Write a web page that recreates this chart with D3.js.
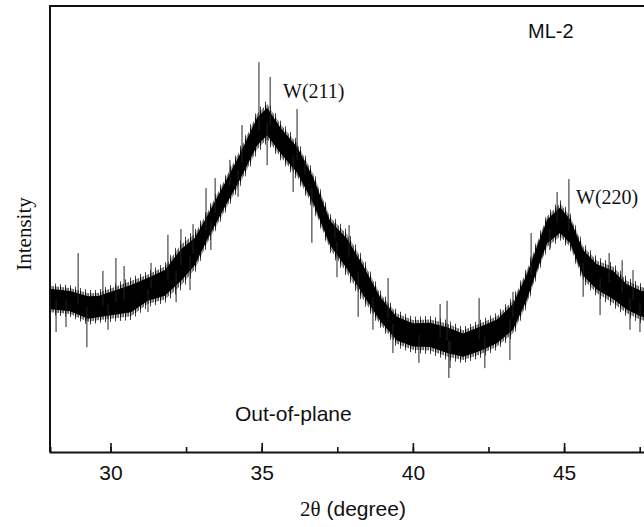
<!DOCTYPE html>
<html>
<head>
<meta charset="utf-8">
<script src="https://cdn.jsdelivr.net/npm/d3@7"></script>
<style>
  html, body { margin: 0; padding: 0; background: #fff; }
  svg { display: block; }
  .sans { font-family: "Liberation Sans", Arial, sans-serif; }
  .serif { font-family: "Liberation Serif", "Times New Roman", serif; }
</style>
</head>
<body>
<svg id="chart" width="644" height="527"></svg>
<script>
// 2θ positions (degree) and band envelope (arb. intensity)
const theta = [28.00, 28.66, 29.26, 29.59, 30.68, 31.24, 31.80, 32.33, 32.79, 33.19,
  33.72, 34.28, 34.85, 35.18, 35.61, 36.17, 36.70, 37.26, 37.82, 38.35,
  38.91, 39.47, 40.00, 40.57, 41.13, 41.66, 42.22, 42.78, 43.31, 43.77,
  44.10, 44.44, 44.87, 45.20, 45.63, 46.09, 46.62, 47.08, 47.51, 47.70];
const hi = [379, 374, 363, 363, 392, 405, 424, 475, 498, 543,
  610, 684, 767, 789, 744, 700, 632, 534, 498, 437,
  363, 318, 303, 305, 296, 280, 296, 312, 348, 415,
  475, 536, 565, 536, 469, 437, 424, 392, 379, 375];
const lo = [307, 303, 285, 289, 296, 325, 334, 363, 401, 460,
  527, 594, 670, 693, 655, 610, 543, 448, 392, 334,
  280, 235, 222, 220, 206, 199, 211, 229, 258, 325,
  392, 453, 475, 453, 379, 348, 325, 303, 289, 285];

// isolated noise spikes sticking out of the band
const spikeTheta = [28.93, 29.75, 30.18, 30.45, 31.90, 32.33, 32.73, 33.16, 34.35, 34.91,
  35.28, 36.17, 37.89, 39.18, 40.90, 41.13, 42.19, 43.91, 45.16, 46.92,
  33.95, 33.46, 31.34, 37.42, 36.43, 46.49, 47.28, 43.31, 44.77,
  28.20, 29.22, 31.24, 32.17, 34.22, 35.18, 32.63, 36.66, 37.49, 38.19,
  40.20, 41.23, 42.38, 43.21, 45.63, 46.19, 47.51,
  33.32, 36.04, 29.92, 28.53, 41.19, 39.34, 47.18, 44.53, 38.68];
const spikeTip = [446, 406, 435, 417, 487, 500, 511, 592, 733, 874,
  841, 769, 509, 390, 332, 339, 345, 491, 612, 430,
  655, 614, 424, 513, 655, 446, 408, 359, 583,
  269, 235, 314, 336, 572, 643, 363, 469, 392, 303,
  200, 188, 188, 206, 348, 307, 269,
  453, 583, 274, 280, 166, 222, 274, 453, 274];

const xTicks = [30, 35, 40, 45];
const xMinor = [30, 32.5, 35, 37.5, 40, 42.5, 45, 47.5];

const svg = d3.select("#chart");
const padLeft = 50, padTop = 6, axisY = 452;

const x = d3.scaleLinear().domain([28, 48]).range([padLeft, padLeft + 20 * 30.24]);
const y = d3.scaleLinear().domain([0, 1000]).range([axisY, padTop]);

const band = theta.map((t, i) => ({ t, hi: hi[i], lo: lo[i], mid: (hi[i] + lo[i]) / 2 }));

const defs = svg.append("defs");
defs.append("clipPath").attr("id", "plot")
  .append("rect").attr("x", padLeft).attr("y", padTop)
  .attr("width", 644 - padLeft).attr("height", axisY - padTop);

// vertical hairline textures to fake the dense noise at the band edges
function hairs(id, step, w) {
  const p = defs.append("pattern").attr("id", id)
    .attr("patternUnits", "userSpaceOnUse")
    .attr("width", step).attr("height", 40);
  p.append("rect").attr("width", w).attr("height", 40).attr("fill", "#000");
}
hairs("hairSparse", 5, 1);
hairs("hairDense", 2.5, 1.3);

const g = svg.append("g").attr("clip-path", "url(#plot)");

const areaAt = k => d3.area()
  .x(d => x(d.t))
  .y0(d => y(d.mid - k * (d.hi - d.lo)))
  .y1(d => y(d.mid + k * (d.hi - d.lo)));

g.append("path").datum(band).attr("fill", "url(#hairSparse)").attr("fill-opacity", 0.75)
  .attr("d", areaAt(0.5));
g.append("path").datum(band).attr("fill", "url(#hairDense)").attr("fill-opacity", 0.9)
  .attr("d", areaAt(0.41));
g.append("path").datum(band).attr("fill", "#000")
  .attr("d", areaAt(0.32));

const bis = d3.bisector(d => d.t).right;
function midAt(t) {
  const i = Math.min(band.length - 1, Math.max(1, bis(band, t)));
  const a = band[i - 1], b = band[i];
  const k = (t - a.t) / (b.t - a.t);
  return a.mid + (b.mid - a.mid) * k;
}

g.selectAll(".spike")
  .data(spikeTheta.map((t, i) => ({ t, v: spikeTip[i] })))
  .join("line")
  .attr("class", "spike")
  .attr("x1", d => x(d.t)).attr("x2", d => x(d.t))
  .attr("y1", d => y(midAt(d.t))).attr("y2", d => y(d.v))
  .attr("stroke", "#222").attr("stroke-width", 1);

// frame
svg.append("line").attr("x1", padLeft).attr("x2", padLeft).attr("y1", padTop).attr("y2", axisY)
  .attr("stroke", "#111").attr("stroke-width", 2);
svg.append("line").attr("x1", padLeft - 1).attr("x2", 644).attr("y1", padTop).attr("y2", padTop)
  .attr("stroke", "#111").attr("stroke-width", 2);

const xAxis = svg.append("g").attr("transform", `translate(0,${axisY})`)
  .call(d3.axisBottom(x).tickValues(xMinor).tickSize(-5).tickFormat(""));
xAxis.select(".domain").attr("stroke", "#111").attr("stroke-width", 2);
xAxis.selectAll(".tick line").attr("stroke", "#111").attr("stroke-width", 1.6);

const xMajor = svg.append("g").attr("transform", `translate(0,${axisY})`)
  .call(d3.axisBottom(x).tickValues(xTicks).tickSize(-9));
xMajor.select(".domain").remove();
xMajor.selectAll(".tick line").attr("stroke", "#111").attr("stroke-width", 1.6);
xMajor.selectAll(".tick text")
  .attr("class", "sans").attr("font-size", 21).attr("fill", "#111")
  .attr("dy", null).attr("y", 28);

// labels
const xt = svg.append("text").attr("x", 353).attr("y", 516)
  .attr("text-anchor", "middle").attr("font-size", 21).attr("fill", "#111");
xt.append("tspan").attr("class", "serif").text("2θ");
xt.append("tspan").attr("class", "sans").text(" (degree)");

svg.append("text").attr("class", "serif")
  .attr("transform", "translate(31,234) rotate(-90)")
  .attr("text-anchor", "middle").attr("font-size", 21).attr("fill", "#111")
  .text("Intensity");

svg.append("text").attr("class", "serif").attr("x", 283).attr("y", 98)
  .attr("font-size", 20).attr("fill", "#111").text("W(211)");
svg.append("text").attr("class", "serif").attr("x", 576).attr("y", 204)
  .attr("font-size", 20).attr("fill", "#111").text("W(220)");
svg.append("text").attr("class", "sans").attr("x", 528).attr("y", 38)
  .attr("font-size", 20).attr("fill", "#111").text("ML-2");
svg.append("text").attr("class", "sans").attr("x", 235).attr("y", 421)
  .attr("font-size", 21).attr("fill", "#111").text("Out-of-plane");
</script>
</body>
</html>
